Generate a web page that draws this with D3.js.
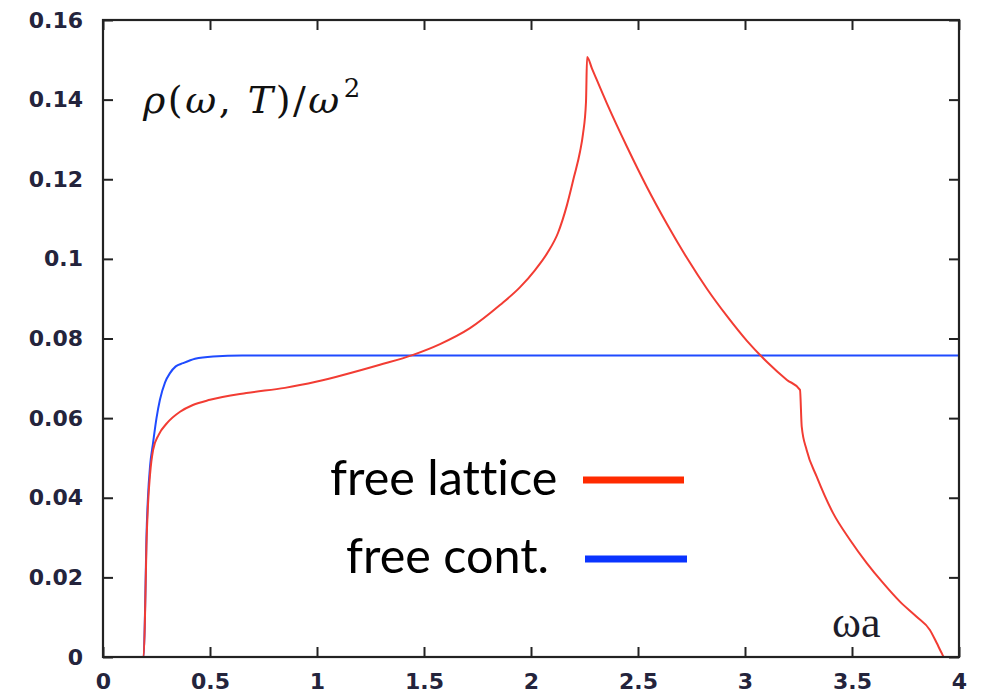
<!DOCTYPE html>
<html>
<head>
<meta charset="utf-8">
<script src="https://cdn.jsdelivr.net/npm/d3@7"></script>
<style>
  html, body { margin: 0; padding: 0; background: #fff; }
  svg { display: block; }
</style>
</head>
<body>
<svg id="chart" width="987" height="695"></svg>
<script>
// Spectral function rho(omega,T)/omega^2 for free lattice and free continuum
const xTicks = [0, 0.5, 1, 1.5, 2, 2.5, 3, 3.5, 4];
const xTickLabels = ["0", "0.5", "1", "1.5", "2", "2.5", "3", "3.5", "4"];
const yTicks = [0, 0.02, 0.04, 0.06, 0.08, 0.1, 0.12, 0.14, 0.16];
const yTickLabels = ["0", "0.02", "0.04", "0.06", "0.08", "0.1", "0.12", "0.14", "0.16"];

const latticeOmega = [0.135, 0.19, 0.197, 0.203, 0.21, 0.22, 0.234, 0.26, 0.3, 0.36, 0.42, 0.5, 0.67, 0.85, 1.0, 1.294, 1.449, 1.575, 1.715, 1.855, 1.949, 2.019, 2.079, 2.126, 2.168, 2.201, 2.229, 2.243, 2.257, 2.262, 2.285, 2.355, 2.449, 2.542, 2.636, 2.729, 2.822, 2.916, 3.009, 3.103, 3.196, 3.257, 3.265, 3.288, 3.335, 3.411, 3.491, 3.569, 3.645, 3.724, 3.802, 3.864, 3.896, 3.919, 3.93, 3.98];
const latticeRho = [0, 0, 0.012, 0.028, 0.038, 0.046, 0.052, 0.0558, 0.0588, 0.0616, 0.0633, 0.0646, 0.0663, 0.0676, 0.0692, 0.0734, 0.0759, 0.0786, 0.0826, 0.0884, 0.0929, 0.0972, 0.1017, 0.1065, 0.1135, 0.1206, 0.1269, 0.1314, 0.1394, 0.1507, 0.1478, 0.1390, 0.1281, 0.1180, 0.1087, 0.1002, 0.0925, 0.0856, 0.0794, 0.0741, 0.0696, 0.0671, 0.0579, 0.052, 0.0453, 0.0362, 0.0294, 0.0236, 0.0186, 0.0139, 0.0101, 0.0068, 0.0035, 0.001, 0, 0];

const contOmega = [0.135, 0.19, 0.197, 0.203, 0.21, 0.22, 0.234, 0.25, 0.266, 0.29, 0.313, 0.34, 0.374, 0.43, 0.514, 0.65, 4.0];
const contRho = [0, 0, 0.013, 0.03, 0.04, 0.048, 0.0538, 0.06, 0.0646, 0.069, 0.0713, 0.073, 0.0738, 0.0749, 0.0755, 0.0757, 0.0757];

const seriesNames = ["free lattice", "free cont."];
const seriesColors = ["#f23c33", "#1f4bff"];
const legendColors = ["#ff2a00", "#0a34ff"];

const svg = d3.select("#chart");
const margin = { left: 103, right: 28, top: 20, bottom: 38 };
const W = 987, H = 695;

const x = d3.scaleLinear().domain([0, 4]).range([margin.left, W - margin.right]);
const y = d3.scaleLinear().domain([0, 0.16]).range([H - margin.bottom, margin.top]);

const axisColor = "#222";
const tickLen = 10;

// Curves
const line = d3.line()
  .x(d => x(d[0]))
  .y(d => y(d[1]))
  .curve(d3.curveMonotoneX);

const latticeData = d3.zip(latticeOmega, latticeRho);
const contData = d3.zip(contOmega, contRho);

svg.append("path")
  .datum(contData)
  .attr("fill", "none")
  .attr("stroke", seriesColors[1])
  .attr("stroke-width", 2)
  .attr("d", line);

svg.append("path")
  .datum(latticeData)
  .attr("fill", "none")
  .attr("stroke", seriesColors[0])
  .attr("stroke-width", 2)
  .attr("d", line);

// Axes: inward ticks on all four sides
const axisB = d3.axisBottom(x).tickValues(xTicks).tickSize(-tickLen).tickFormat((d, i) => xTickLabels[i]).tickPadding(16);
const axisT = d3.axisTop(x).tickValues(xTicks).tickSize(-tickLen).tickFormat("");
const axisL = d3.axisLeft(y).tickValues(yTicks).tickSize(-tickLen).tickFormat((d, i) => yTickLabels[i]).tickPadding(20);
const axisR = d3.axisRight(y).tickValues(yTicks).tickSize(-tickLen).tickFormat("");

function styleAxis(g) {
  g.select(".domain").remove();
  g.selectAll(".tick line").attr("stroke", axisColor).attr("stroke-width", 2);
  g.selectAll(".tick text")
    .attr("fill", "#24243c")
    .style("font-family", "'DejaVu Sans', sans-serif")
    .style("font-weight", "bold")
    .style("font-size", "22px");
}

svg.append("g").attr("transform", `translate(0,${y(0)})`).call(axisB).call(styleAxis);
svg.append("g").attr("transform", `translate(0,${y(0.16)})`).call(axisT).call(styleAxis);
svg.append("g").attr("transform", `translate(${x(0)},0)`).call(axisL).call(styleAxis);
svg.append("g").attr("transform", `translate(${x(4)},0)`).call(axisR).call(styleAxis);

// Frame
svg.append("rect")
  .attr("x", x(0)).attr("y", y(0.16))
  .attr("width", x(4) - x(0)).attr("height", y(0) - y(0.16))
  .attr("fill", "none").attr("stroke", axisColor).attr("stroke-width", 2.2);

// Axis titles
const yTitle = svg.append("text")
  .attr("x", 143).attr("y", 113)
  .style("font-family", "'DejaVu Serif', serif")
  .style("font-size", "38px")
  .style("letter-spacing", "2.5px")
  .attr("fill", "#111");
yTitle.append("tspan").style("font-style", "italic").text("ρ");
yTitle.append("tspan").text("(");
yTitle.append("tspan").style("font-style", "italic").text("ω");
yTitle.append("tspan").text(", ");
yTitle.append("tspan").style("font-style", "italic").text("T");
yTitle.append("tspan").text(")/");
yTitle.append("tspan").style("font-style", "italic").text("ω");
yTitle.append("tspan").attr("dy", -16).attr("dx", 2).style("font-size", "26px").text("2");

svg.append("text")
  .attr("x", 832).attr("y", 637)
  .style("font-family", "'Liberation Serif', serif")
  .style("font-size", "44px")
  .attr("fill", "#1d1d2a")
  .text("ωa");

// Legend
const legendRows = [
  { label: seriesNames[0], color: legendColors[0], tx: 330, ty: 495, lx1: 583, lx2: 684, ly: 480 },
  { label: seriesNames[1], color: legendColors[1], tx: 346, ty: 573, lx1: 585, lx2: 687, ly: 559 }
];
legendRows.forEach(r => {
  svg.append("text")
    .attr("x", r.tx).attr("y", r.ty)
    .style("font-family", "Lato, 'Open Sans', sans-serif")
    .style("font-size", "48.5px")
    .style("font-variant-ligatures", "none")
    .attr("fill", "#000")
    .text(r.label);
  svg.append("line")
    .attr("x1", r.lx1).attr("x2", r.lx2)
    .attr("y1", r.ly).attr("y2", r.ly)
    .attr("stroke", r.color).attr("stroke-width", 7);
});
</script>
</body>
</html>
